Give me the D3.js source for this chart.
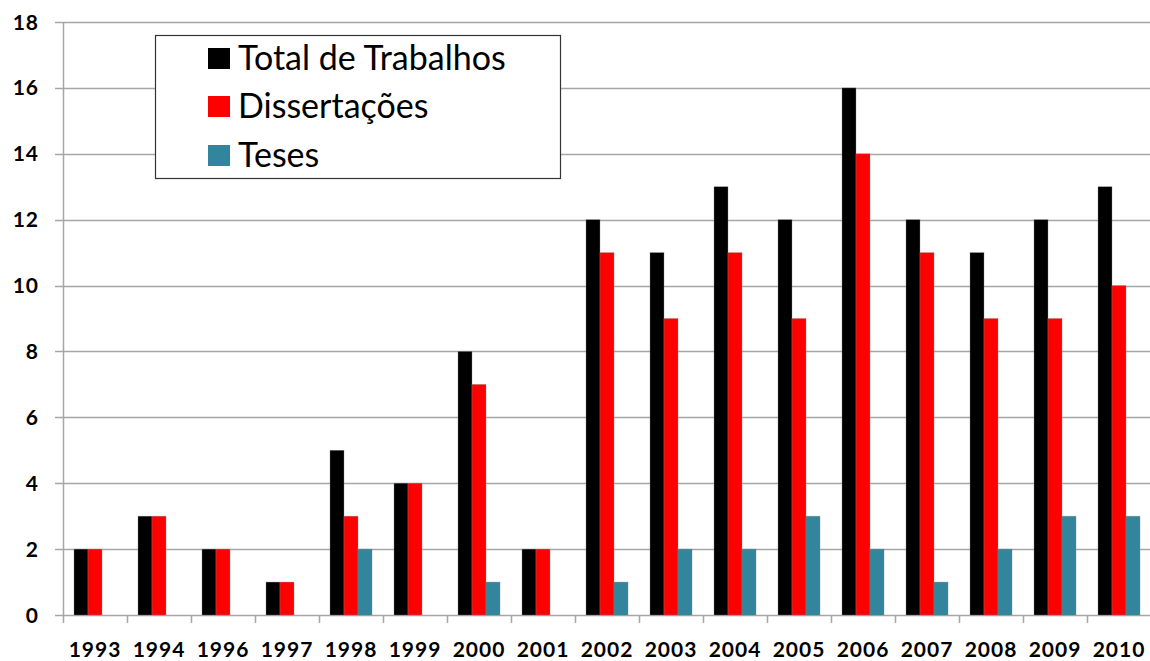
<!DOCTYPE html>
<html lang="pt">
<head>
<meta charset="utf-8">
<title>Trabalhos por ano</title>
<script src="https://cdn.jsdelivr.net/npm/d3@7"></script>
<style>
  body { margin: 0; background: #fff; }
  text { font-family: Lato, "Open Sans", sans-serif; }
  .axis-lbl { font-weight: bold; font-size: 21px; letter-spacing: 1px; fill: #000; }
  .leg-lbl { font-size: 34px; fill: #000; }
</style>
</head>
<body>
<div id="chart"></div>
<script>
// data
var years = ["1993","1994","1996","1997","1998","1999","2000","2001","2002","2003","2004","2005","2006","2007","2008","2009","2010"];
var total = [2,3,2,1,5,4,8,2,12,11,13,12,16,12,11,12,13];
var dissertacoes = [2,3,2,1,3,4,7,2,11,9,11,9,14,11,9,9,10];
var teses = [0,0,0,0,2,0,1,0,1,2,2,3,2,1,2,3,3];
var seriesNames = ["Total de Trabalhos","Dissertações","Teses"];
var seriesColors = ["#000000","#ff0000","#31859c"];
var yTicks = [0,2,4,6,8,10,12,14,16,18];

var W = 1150, H = 661;
var margin = {top: 22, right: -1, bottom: 46, left: 63};

var svg = d3.select("#chart").append("svg")
    .attr("width", W).attr("height", H);

var x0 = d3.scaleBand().domain(years)
    .range([margin.left, W - margin.right]).paddingInner(0).paddingOuter(0);
var x1 = d3.scaleBand().domain(d3.range(3))
    .range([11, x0.bandwidth() - 11]);
var y = d3.scaleLinear().domain([0, 18]).range([H - margin.bottom, margin.top]);

// gridlines
svg.append("g").selectAll("line").data(yTicks).enter().append("line")
    .attr("x1", margin.left - 8).attr("x2", W - margin.right)
    .attr("y1", function(d){ return Math.round(y(d)) + 0.5; })
    .attr("y2", function(d){ return Math.round(y(d)) + 0.5; })
    .attr("stroke", "#a6a6a6").attr("stroke-width", 1.5);

// y labels
svg.append("g").selectAll("text").data(yTicks).enter().append("text")
    .attr("class", "axis-lbl")
    .attr("x", 39).attr("y", function(d){ return y(d); })
    .attr("dy", "0.36em").attr("text-anchor", "end")
    .text(function(d){ return d; });

// bars
var rows = years.map(function(yr, i){ return {year: yr, vals: [total[i], dissertacoes[i], teses[i]]}; });
var grp = svg.append("g").selectAll("g").data(rows).enter().append("g")
    .attr("transform", function(d){ return "translate(" + x0(d.year) + ",0)"; });
grp.selectAll("rect").data(function(d){ return d.vals.map(function(v, k){ return {k: k, v: v}; }); })
  .enter().filter(function(d){ return d.v > 0; }).append("rect")
    .attr("x", function(d){ return x1(d.k); })
    .attr("width", x1.bandwidth())
    .attr("y", function(d){ return y(d.v); })
    .attr("height", function(d){ return y(0) - y(d.v); })
    .attr("fill", function(d){ return seriesColors[d.k]; })
    .attr("stroke", "#888").attr("stroke-width", 0.6).attr("stroke-opacity", 0.6);

// axes lines
svg.append("line").attr("x1", margin.left + 0.5).attr("x2", margin.left + 0.5)
    .attr("y1", y(18)).attr("y2", y(0) + 8).attr("stroke", "#a6a6a6").attr("stroke-width", 1.5);
svg.append("g").selectAll("line").data(years.slice(1)).enter().append("line")
    .attr("x1", function(d){ return x0(d) + 0.5; }).attr("x2", function(d){ return x0(d) + 0.5; })
    .attr("y1", y(0)).attr("y2", y(0) + 8)
    .attr("stroke", "#a6a6a6").attr("stroke-width", 1.5);

// x labels
svg.append("g").selectAll("text").data(years).enter().append("text")
    .attr("class", "axis-lbl")
    .attr("x", function(d){ return x0(d) + x0.bandwidth() / 2; })
    .attr("y", 649).attr("dy", "0.36em").attr("text-anchor", "middle")
    .text(function(d){ return d; });

// legend
var leg = svg.append("g");
leg.append("rect").attr("x", 155.5).attr("y", 35.5).attr("width", 405).attr("height", 143)
    .attr("fill", "#fff").attr("stroke", "#333").attr("stroke-width", 1.2);
var legRows = [58, 106, 155];
seriesNames.forEach(function(name, i){
  leg.append("rect").attr("x", 208).attr("y", legRows[i] - 10).attr("width", 22).attr("height", 21)
      .attr("fill", seriesColors[i]);
  leg.append("text").attr("class", "leg-lbl").attr("x", 238).attr("y", legRows[i])
      .attr("dy", "0.36em").text(name);
});
</script>
</body>
</html>
